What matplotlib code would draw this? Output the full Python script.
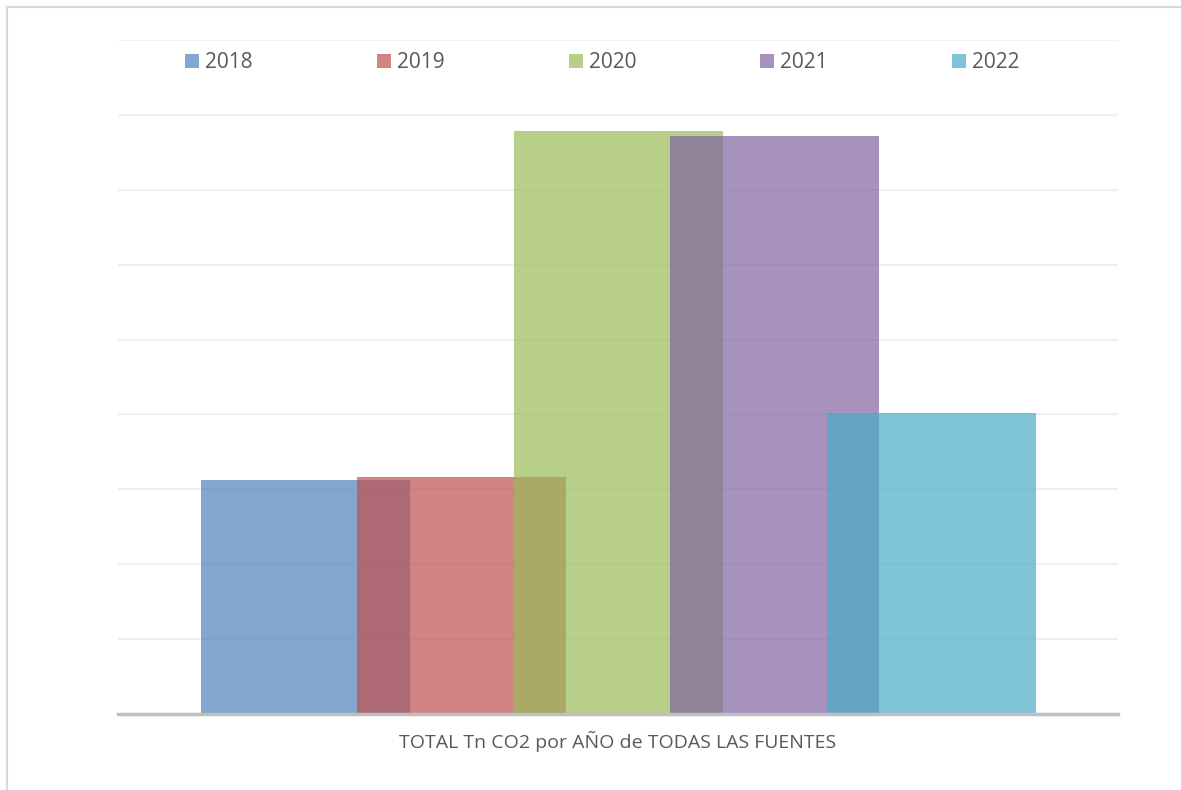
import matplotlib.pyplot as plt
from matplotlib.lines import Line2D

plt.rcParams['font.family'] = ['Open Sans', 'DejaVu Sans']

# datos (unidades = lineas de la cuadricula, el grafico original no trae eje Y)
years = ["2018", "2019", "2020", "2021", "2022"]
values = [3.12, 3.16, 7.78, 7.72, 4.02]
colors = ["#4F81BD", "#C0504D", "#9BBB59", "#8064A2", "#4BACC6"]
xlabel = "TOTAL Tn CO2 por AÑO de TODAS LAS FUENTES"

W, H = 1181, 790
fig = plt.figure(figsize=(W / 100, H / 100), dpi=100)
ax = fig.add_axes([118 / W, (H - 714) / H, 1000 / W, 674 / H])

step = 0.1565
width = 0.209
for i, (yr, v, c) in enumerate(zip(years, values, colors)):
    ax.bar((i - 2) * step, v, width=width, color=c, alpha=0.7, label=yr, zorder=2, linewidth=0)

ax.set_xlim(-0.5, 0.5)
ax.set_ylim(0, 9)
ax.set_yticks(range(0, 10))
ax.yaxis.grid(True, color="#F0F0F0", linewidth=1.5, zorder=0)
ax.set_axisbelow(True)
ax.tick_params(left=False, bottom=False, labelleft=False, labelbottom=False)
for s in ["top", "right", "left"]:
    ax.spines[s].set_visible(False)
ax.spines["bottom"].set_color("#BFBFBF")
ax.spines["bottom"].set_linewidth(2.5)
ax.spines["bottom"].set_zorder(3)

ax.set_xlabel(xlabel, fontsize=14, color="#595959", labelpad=12)

fs = 15
leg = fig.legend(loc="center", bbox_to_anchor=(602.5 / W, 1 - 63 / H), ncol=5, frameon=False,
                 fontsize=fs, handlelength=0.67, handleheight=0.67, handletextpad=0.29,
                 columnspacing=5.96, borderpad=0)
for t in leg.get_texts():
    t.set_color("#595959")

# borde exterior del grafico
fig.add_artist(Line2D([7 / W, 1], [1 - 7 / H, 1 - 7 / H], color="#D9D9D9", linewidth=1.5))
fig.add_artist(Line2D([7 / W, 7 / W], [0, 1 - 7 / H], color="#D9D9D9", linewidth=1.5))

fig.savefig("out.png", dpi=100)
